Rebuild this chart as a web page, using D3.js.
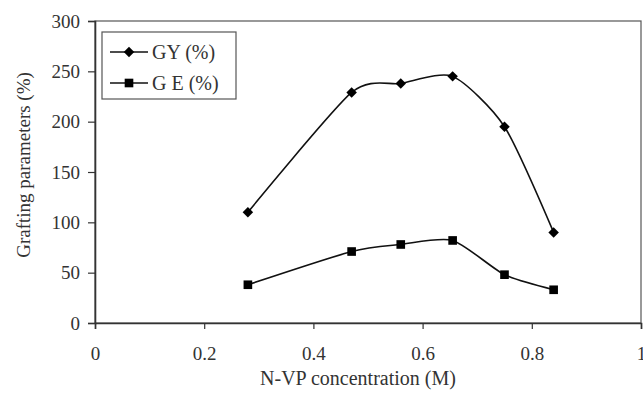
<!DOCTYPE html>
<html>
<head>
<meta charset="utf-8">
<script src="https://cdn.jsdelivr.net/npm/d3@7"></script>
<style>
body { margin: 0; background: #fff; }
</style>
</head>
<body>
<div id="chartArea"></div>
<script>
const width = 643;
const height = 394;
const FONT = "'Liberation Serif', 'Times New Roman', Times, Tinos, 'Nimbus Roman', FreeSerif, 'Noto Serif', 'DejaVu Serif', serif";

// data
const concentration = [0.28, 0.47, 0.56, 0.655, 0.75, 0.84];
const gyValues = [110, 229, 238, 245, 195, 90];
const geValues = [38, 71, 78, 82, 48, 33];
const xTicks = [0, 0.2, 0.4, 0.6, 0.8, 1];
const yTicks = [0, 50, 100, 150, 200, 250, 300];

const margin = { top: 21, right: 2, bottom: 71, left: 95 };

const svg = d3.select("#chartArea")
    .append("svg")
    .attr("width", width)
    .attr("height", height);

const x = d3.scaleLinear().domain([0, 1]).range([margin.left, width - margin.right]);
const y = d3.scaleLinear().domain([0, 300]).range([height - margin.bottom, margin.top]);

// plot frame (top and right)
svg.append("rect")
    .attr("x", x(0))
    .attr("y", y(300))
    .attr("width", x(1) - x(0))
    .attr("height", y(0) - y(300))
    .attr("fill", "none")
    .attr("stroke", "#555")
    .attr("stroke-width", 1.2);

const xAxis = svg.append("g")
    .attr("transform", `translate(0,${y(0)})`)
    .call(d3.axisBottom(x).tickValues(xTicks).tickSize(6).tickPadding(18)
        .tickFormat(d => d === 0 || d === 1 ? d3.format("d")(d) : d3.format(".1f")(d)));

const yAxis = svg.append("g")
    .attr("transform", `translate(${x(0)},0)`)
    .call(d3.axisLeft(y).tickValues(yTicks).tickSize(7).tickPadding(8));

[xAxis, yAxis].forEach(g => {
    g.attr("font-family", FONT);
    g.select(".domain").attr("stroke", "#333").attr("stroke-width", 1.6);
    g.selectAll(".tick line").attr("stroke", "#333").attr("stroke-width", 1.2);
    g.selectAll(".tick text")
        .attr("font-family", FONT)
        .attr("font-size", 19)
        .attr("fill", "#333");
});

// axis titles
svg.append("text")
    .attr("x", (x(0) + x(1)) / 2 - 10)
    .attr("y", 385)
    .attr("text-anchor", "middle")
    .attr("font-family", FONT)
    .attr("font-size", 20)
    .attr("fill", "#333")
    .text("N-VP concentration (M)");

svg.append("text")
    .attr("transform", "translate(30,165) rotate(-90)")
    .attr("text-anchor", "middle")
    .attr("font-family", FONT)
    .attr("font-size", 19)
    .attr("fill", "#333")
    .text("Grafting parameters (%)");

const line = d3.line()
    .x(d => x(d[0]))
    .y(d => y(d[1]))
    .curve(d3.curveCardinal.tension(0.3));

const series = [
    { name: "GY (%)", values: gyValues, symbol: d3.symbolDiamond2, size: 70 },
    { name: "G E (%)", values: geValues, symbol: d3.symbolSquare2, size: 95 }
];

series.forEach(s => {
    const pts = concentration.map((c, i) => [c, s.values[i]]);
    svg.append("path")
        .datum(pts)
        .attr("d", line)
        .attr("fill", "none")
        .attr("stroke", "#111")
        .attr("stroke-width", 1.6);

    svg.append("g")
        .selectAll("path")
        .data(pts)
        .enter().append("path")
        .attr("transform", d => `translate(${x(d[0])},${y(d[1])})`)
        .attr("d", d3.symbol().type(s.symbol).size(s.size))
        .attr("fill", "#000");
});

// legend
const legend = svg.append("g").attr("transform", "translate(102,32)");
legend.append("rect")
    .attr("width", 134)
    .attr("height", 67)
    .attr("fill", "#fff")
    .attr("stroke", "#555")
    .attr("stroke-width", 1.2);

series.forEach((s, i) => {
    const ly = 20 + i * 31;
    legend.append("line")
        .attr("x1", 8).attr("x2", 46)
        .attr("y1", ly).attr("y2", ly)
        .attr("stroke", "#111")
        .attr("stroke-width", 1.6);
    legend.append("path")
        .attr("transform", `translate(27,${ly})`)
        .attr("d", d3.symbol().type(s.symbol).size(s.size))
        .attr("fill", "#000");
    legend.append("text")
        .attr("x", 50)
        .attr("y", ly + 7)
        .attr("font-family", FONT)
        .attr("font-size", 20)
        .attr("fill", "#333")
        .text(s.name);
});
</script>
</body>
</html>
